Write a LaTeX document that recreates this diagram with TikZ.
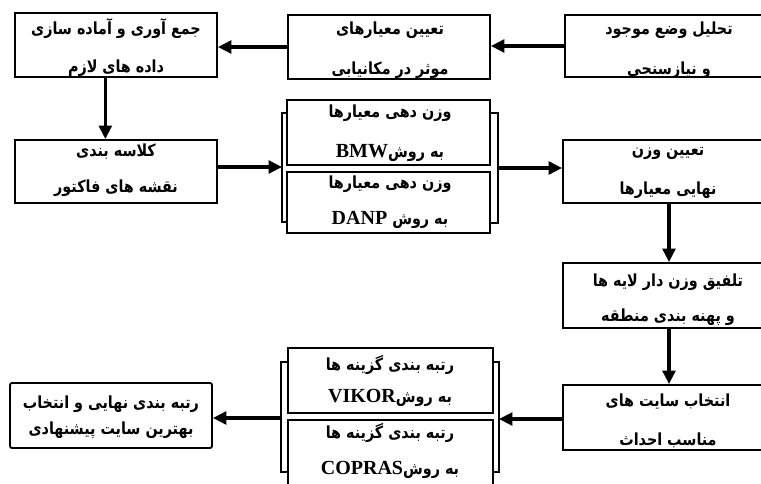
\documentclass[tikz,border=0pt]{standalone}
\usepackage{fontspec}
\setmainfont{Liberation Serif}
\newfontfamily\fa[Script=Arabic,FakeStretch=0.86]{DejaVu Sans}
\TeXXeTstate=1
\usetikzlibrary{arrows.meta,fit}
\newcommand\fat[1]{{\fa\bfseries\fontsize{12.5}{14}\selectfont\beginR #1\endR}}
\newcommand\lat[1]{\beginL{\rmfamily\bfseries\fontsize{15}{16}\selectfont #1}\endL}
\tikzset{
  box/.style={draw, line width=1.4pt, inner sep=0pt, fill=white},
  txt/.style={inner sep=0pt, anchor=center},
  arr/.style={line width=2.4pt, -{Triangle[length=10pt,width=9.5pt]}},
  brk/.style={line width=2.2pt, line join=miter},
}
\begin{document}
\begin{tikzpicture}[x=0.75pt,y=-0.75pt]
\clip (0,0) rectangle (761,484);
\useasboundingbox (0,0) rectangle (761,484);
\fill[white] (0,0) rectangle (761,484);

% boxes
\node[box, fit={(15,13) (217,77)}] (b1) {};
\node[box, fit={(288,15) (490,79)}] (b2) {};
\node[box, fit={(565,15) (775,77)}] (b3) {};
\node[box, fit={(15,140) (217,203)}] (b4) {};
\node[box, fit={(287,100) (490,165)}] (bmw) {};
\node[box, fit={(287,172) (490,233)}] (danp) {};
\node[box, fit={(563,140) (775,203)}] (b6) {};
\node[box, fit={(563,263) (775,328)}] (b7) {};
\node[box, fit={(563,385) (775,450)}] (b8) {};
\node[box, fit={(288,348) (493,413)}] (vik) {};
\node[box, fit={(288,420) (493,490)}] (cop) {};
\node[box, rounded corners=1.5pt, fit={(10,383) (212,448)}] (b11) {};

% texts
\node[txt] (t1a) at (116,29) {\fat{جمع آوری و آماده سازی}};
\node[txt] (t1b) at (116,68) {\fat{داده های لازم}};
\node[txt] (t2a) at (390,30) {\fat{تعیین معیارهای}};
\node[txt] (t2b) at (390,70) {\fat{موثر در مکانیابی}};
\node[txt] (t3a) at (669,30) {\fat{تحلیل وضع موجود}};
\node[txt] (t3b) at (669,70) {\fat{و نیازسنجی}};
\node[txt] (t4a) at (116,152) {\fat{کلاسه بندی}};
\node[txt] (t4b) at (116,188) {\fat{نقشه های فاکتور}};
\node[txt] (t5a) at (390,113) {\fat{وزن دهی معیارها}};
\node[txt] (t5b) at (390,153) {\fat{به روش\lat{BMW}}};
\node[txt] (t6a) at (390,184) {\fat{وزن دهی معیارها}};
\node[txt] (t6b) at (390,220) {\fat{به روش \lat{DANP}}};
\node[txt] (t7a) at (668,153) {\fat{تعیین وزن}};
\node[txt] (t7b) at (668,190) {\fat{نهایی معیارها}};
\node[txt] (t8a) at (668,282) {\fat{تلفیق وزن دار لایه ها}};
\node[txt] (t8b) at (668,317) {\fat{و پهنه بندی منطقه}};
\node[txt] (t9a) at (668,402) {\fat{انتخاب سایت های}};
\node[txt] (t9b) at (668,440) {\fat{مناسب احداث}};
\node[txt] (t10a) at (390,365) {\fat{رتبه بندی گزینه ها}};
\node[txt] (t10b) at (390,398) {\fat{به روش\lat{VIKOR}}};
\node[txt] (t11a) at (390,433) {\fat{رتبه بندی گزینه ها}};
\node[txt] (t11b) at (390,470) {\fat{به روش\lat{COPRAS}}};
\node[txt] (t12a) at (111,404) {\fat{رتبه بندی نهایی و انتخاب}};
\node[txt] (t12b) at (111,430) {\fat{بهترین سایت پیشنهادی}};

% brackets
\coordinate (lb) at (282,167);
\coordinate (rb) at (498,168);
\coordinate (lb2) at (281,418);
\coordinate (rb2) at (499,419);
\draw[brk] (bmw.west |- 0,113) -- (282,113) -- (282,222) -- (danp.west |- 0,222);
\draw[brk] (bmw.east |- 0,113) -- (498,113) -- (498,223) -- (danp.east |- 0,223);
\draw[brk] (vik.west |- 0,362) -- (281,362) -- (281,472) -- (cop.west |- 0,472);
\draw[brk] (vik.east |- 0,362) -- (499,362) -- (499,472) -- (cop.east |- 0,472);

% connectors
\draw[arr] (b3.west) -- (b3.west -| b2.east);
\draw[arr] (b2.west) -- (b2.west -| b1.east);
\draw[arr] ([xshift=-8pt]b1.south) -- ([xshift=-8pt]b4.north);
\draw[arr] (b4.east |- lb) -- (lb);
\draw[arr] (rb) -- (rb -| b6.west);
\draw[arr] (b6.south) -- (b7.north);
\draw[arr] (b7.south) -- (b8.north);
\draw[arr] (b8.west |- rb2) -- (rb2);
\draw[arr] (lb2) -- (lb2 -| b11.east);
\end{tikzpicture}
\end{document}
